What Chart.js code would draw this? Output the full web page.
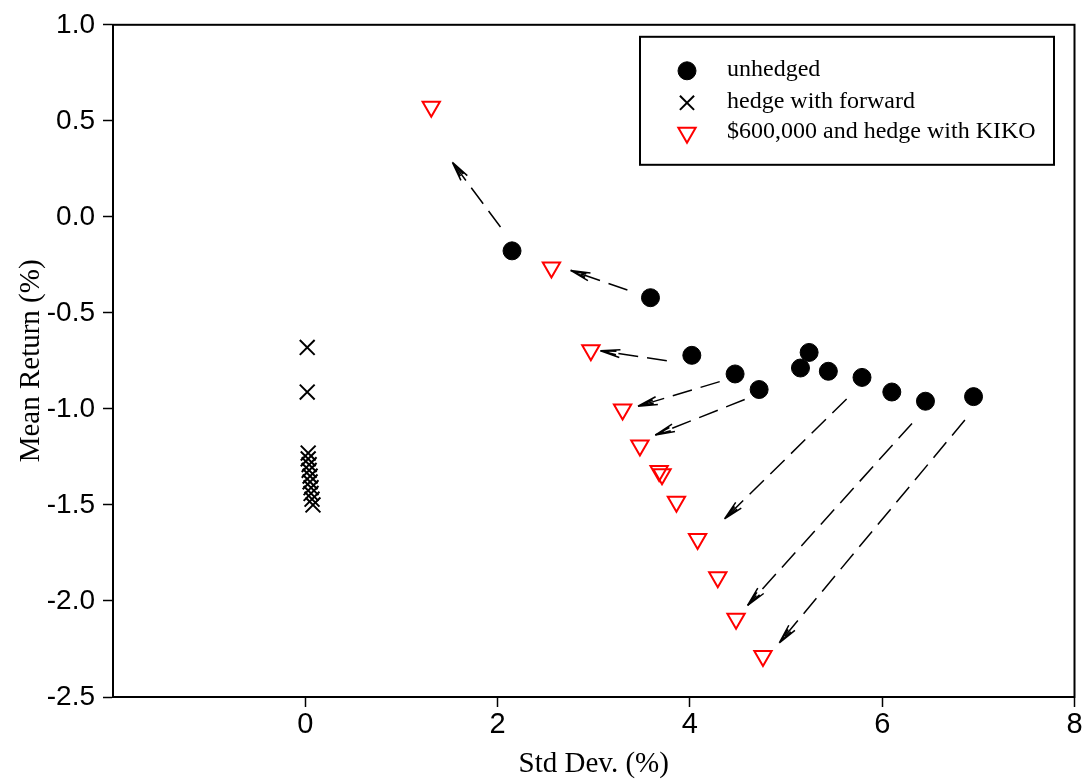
<!DOCTYPE html>
<html>
<head>
<meta charset="utf-8">
<script src="https://cdn.jsdelivr.net/npm/chart.js@4/dist/chart.umd.min.js"></script>
<style>
html, body { margin: 0; padding: 0; background: #fff; }
#wrap { width: 1087px; height: 780px; }
</style>
</head>
<body>
<div id="wrap"><canvas id="risk-return-chart"></canvas></div>
<script>
// std dev (%) and mean return (%)
var unhedgedStd  = [2.15, 3.59, 4.02, 4.47, 4.72, 5.15, 5.24, 5.44, 5.79, 6.10, 6.45, 6.95];
var unhedgedMean = [-0.177, -0.421, -0.721, -0.818, -0.899, -0.787, -0.706, -0.804, -0.836, -0.912, -0.960, -0.936];

var forwardStd  = [0.02, 0.02, 0.03, 0.03, 0.04, 0.04, 0.05, 0.05, 0.06, 0.06, 0.07, 0.08];
var forwardMean = [-0.680, -0.912, -1.23, -1.26, -1.29, -1.32, -1.35, -1.38, -1.41, -1.44, -1.47, -1.50];

var kikoStd  = [1.31, 2.56, 2.97, 3.30, 3.48, 3.68, 3.71, 3.86, 4.08, 4.29, 4.48, 4.76];
var kikoMean = [0.573, -0.264, -0.695, -1.003, -1.190, -1.323, -1.340, -1.484, -1.677, -1.876, -2.092, -2.286];

// arrows: unhedged -> KIKO
var arrowFromStd  = [2.03, 3.35, 3.76, 4.31, 4.57, 5.63, 6.31, 6.86];
var arrowFromMean = [-0.053, -0.381, -0.749, -0.858, -0.951, -0.948, -1.076, -1.058];
var arrowToStd    = [1.53, 2.76, 3.07, 3.46, 3.64, 4.36, 4.60, 4.93];
var arrowToMean   = [0.284, -0.279, -0.697, -0.986, -1.136, -1.573, -2.023, -2.218];

var seriesNames = ['unhedged', 'hedge with forward', '$600,000 and hedge with KIKO'];

var xTicks = [-2, 0, 2, 4, 6, 8];
var yTicks = [1.0, 0.5, 0.0, -0.5, -1.0, -1.5, -2.0, -2.5];

function toPoints(xs, ys) {
  return xs.map(function (x, i) { return { x: x, y: ys[i] }; });
}

var arrowPlugin = {
  id: 'arrows',
  afterDatasetsDraw: function (chart) {
    var ctx = chart.ctx;
    var xs = chart.scales.x, ys = chart.scales.y;
    ctx.save();
    ctx.strokeStyle = '#000';
    ctx.lineWidth = 1.5;
    arrowFromStd.forEach(function (v, i) {
      var x1 = xs.getPixelForValue(v), y1 = ys.getPixelForValue(arrowFromMean[i]);
      var x2 = xs.getPixelForValue(arrowToStd[i]), y2 = ys.getPixelForValue(arrowToMean[i]);
      ctx.setLineDash([20, 9]);
      ctx.beginPath();
      ctx.moveTo(x1, y1);
      ctx.lineTo(x2, y2);
      ctx.stroke();
      ctx.setLineDash([]);
      var ang = Math.atan2(y2 - y1, x2 - x1);
      ctx.beginPath();
      [[20, 0.2], [16, 0.11]].forEach(function (b) {
        ctx.moveTo(x2, y2);
        ctx.lineTo(x2 - b[0] * Math.cos(ang - b[1]), y2 - b[0] * Math.sin(ang - b[1]));
        ctx.moveTo(x2, y2);
        ctx.lineTo(x2 - b[0] * Math.cos(ang + b[1]), y2 - b[0] * Math.sin(ang + b[1]));
      });
      ctx.stroke();
    });
    ctx.restore();
  }
};

var framePlugin = {
  id: 'frame',
  afterDraw: function (chart) {
    var ctx = chart.ctx, a = chart.chartArea;
    ctx.save();
    ctx.strokeStyle = '#000';
    ctx.lineWidth = 2;
    ctx.strokeRect(a.left, a.top, a.right - a.left, a.bottom - a.top);

    // legend box
    var bx = a.left + 527, by = a.top + 12;
    ctx.lineWidth = 2;
    ctx.strokeRect(bx, by, 414, 128);
    var rows = [34, 66, 96];
    ctx.font = '24px "Liberation Serif", "Times New Roman", serif';
    ctx.textBaseline = 'middle';
    ctx.textAlign = 'left';
    chart.data.datasets.forEach(function (ds, i) {
      var mx = bx + 47, my = by + rows[i];
      var opts = {
        pointStyle: ds.pointStyle,
        radius: ds.legendRadius,
        rotation: ds.rotation || 0,
        borderWidth: ds.borderWidth
      };
      ctx.save();
      ctx.fillStyle = ds.backgroundColor;
      ctx.strokeStyle = ds.borderColor;
      ctx.lineWidth = ds.borderWidth;
      Chart.helpers.drawPoint(ctx, opts, mx, my);
      ctx.restore();
      ctx.fillStyle = '#000';
      ctx.fillText(ds.label, bx + 87, my - 1);
    });
    ctx.restore();
  }
};

new Chart('risk-return-chart', {
  type: 'scatter',
  data: {
    datasets: [{
      label: seriesNames[0],
      data: toPoints(unhedgedStd, unhedgedMean),
      pointStyle: 'circle',
      pointRadius: 9,
      legendRadius: 9,
      backgroundColor: '#000',
      borderColor: '#000',
      borderWidth: 1,
    }, {
      label: seriesNames[1],
      data: toPoints(forwardStd, forwardMean),
      pointStyle: 'crossRot',
      pointRadius: 10.5,
      legendRadius: 10,
      backgroundColor: '#000',
      borderColor: '#000',
      borderWidth: 2,
    }, {
      label: seriesNames[2],
      data: toPoints(kikoStd, kikoMean),
      pointStyle: 'triangle',
      rotation: 180,
      pointRotation: 180,
      pointRadius: 10,
      legendRadius: 10,
      backgroundColor: 'rgba(0,0,0,0)',
      borderColor: '#ff0000',
      borderWidth: 2,
    }],
  },
  options: {
    responsive: true,
    maintainAspectRatio: false,
    animation: false,
    devicePixelRatio: 1,
    layout: { padding: { top: 22, right: 12, left: 0, bottom: 0 } },
    plugins: {
      legend: { display: false },
      tooltip: { enabled: false },
    },
    scales: {
      x: {
        type: 'linear',
        min: -2,
        max: 8,
        afterBuildTicks: function (scale) {
          scale.ticks = xTicks.map(function (v) { return { value: v }; });
        },
        afterFit: function (scale) { scale.height = 83; },
        ticks: {
          color: '#000',
          padding: 1,
          font: { family: '"Liberation Sans Narrow", "Arial Narrow", "Liberation Sans", sans-serif', size: 29 },
          callback: function (v) { return v === -2 ? '' : String(v); },
        },
        grid: {
          drawOnChartArea: false,
          tickLength: 10,
          tickWidth: 1.5,
          tickColor: function (c) { return c.tick && c.tick.value === -2 ? 'rgba(0,0,0,0)' : '#000'; },
        },
        border: { color: '#000', width: 2 },
        title: {
          display: true,
          text: 'Std Dev. (%)',
          color: '#000',
          padding: { top: 0, bottom: -2 },
          font: { family: '"Liberation Serif", "Times New Roman", serif', size: 29 },
        },
      },
      y: {
        type: 'linear',
        min: -2.5,
        max: 1.0,
        afterBuildTicks: function (scale) {
          scale.ticks = yTicks.map(function (v) { return { value: v }; });
        },
        afterFit: function (scale) { scale.width = 113; },
        ticks: {
          color: '#000',
          padding: 8,
          font: { family: '"Liberation Sans", Arial, sans-serif', size: 28 },
          callback: function (v) { return Number(v).toFixed(1); },
        },
        grid: {
          drawOnChartArea: false,
          tickLength: 10,
          tickWidth: 1.5,
          tickColor: '#000',
        },
        border: { color: '#000', width: 2 },
        title: {
          display: true,
          text: 'Mean Return (%)',
          color: '#000',
          padding: { top: 14, bottom: 0 },
          font: { family: '"Liberation Serif", "Times New Roman", serif', size: 29 },
        },
      },
    },
  },
  plugins: [arrowPlugin, framePlugin],
});
</script>
</body>
</html>
